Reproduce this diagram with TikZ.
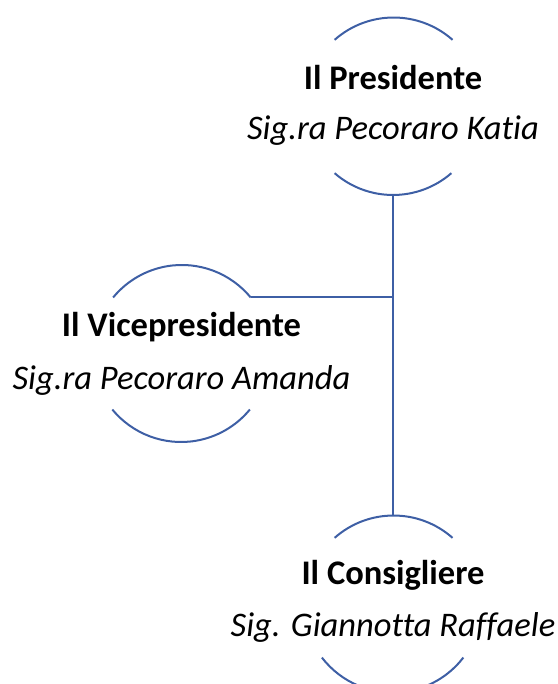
\documentclass[tikz,border=0pt]{standalone}
\usepackage{fontspec}
\setmainfont{Carlito}[Ligatures=NoCommon]
\usetikzlibrary{positioning}
\usetikzlibrary{calc}

\definecolor{ringblue}{RGB}{62,95,165}

\begin{document}
\begin{tikzpicture}[x=1pt, y=1pt,
  ring/.style={circle, minimum size=178pt, inner sep=0pt, outer sep=0pt},
  arcline/.style={draw=ringblue, line width=2pt},
  title/.style={anchor=base, inner sep=0pt, font=\fontsize{34.5}{40}\selectfont\bfseries},
  person/.style={anchor=base, inner sep=0pt, font=\fontsize{34.5}{40}\selectfont\itshape}]

\useasboundingbox (0,0) rectangle (557,684);

% rings
\node [ring](pres) at (393,578) {};
\node [ring](vice) at (181.5,330.5) {};
\node [ring](cons) at (393,80) {};

% texts
\node [title] (presT) at ($(pres.center)+(0,16.5)$) {Il Presidente};
\node [person] (presN) at ($(pres.center)+(0,-34)$) {Sig.ra Pecoraro Katia};
\node [title] (viceT) at ($(vice.center)+(0,16.5)$) {Il Vicepresidente};
\node [person] (viceN) at ($(vice.center)+(0,-36.5)$) {Sig.ra Pecoraro Amanda};
\node [title] (consT) at ($(cons.center)+(0,19)$) {Il Consigliere};
\node [person] (consN) at ($(cons.center)+(0,-32.5)$) {Sig. Giannotta Raffaele};

% open arcs
\draw [arcline] (pres.48.5) arc[start angle=48.5, end angle=131.5, radius=89pt];
\draw [arcline] (pres.229) arc[start angle=229, end angle=311, radius=89pt];
\draw [arcline] (vice.39.4) arc[start angle=39.4, end angle=140.6, radius=89pt];
\draw [arcline] (vice.219.4) arc[start angle=219.4, end angle=320.6, radius=89pt];
\draw [arcline] (cons.48.5) arc[start angle=48.5, end angle=131.5, radius=89pt];
\draw [arcline] (cons.217.4) arc[start angle=217.4, end angle=322.6, radius=89pt];

% connectors
\draw [arcline] (pres.south) -- (cons.north);
\draw [arcline] (vice.39.4) -- (vice.39.4 -| pres.south);

\end{tikzpicture}
\end{document}
